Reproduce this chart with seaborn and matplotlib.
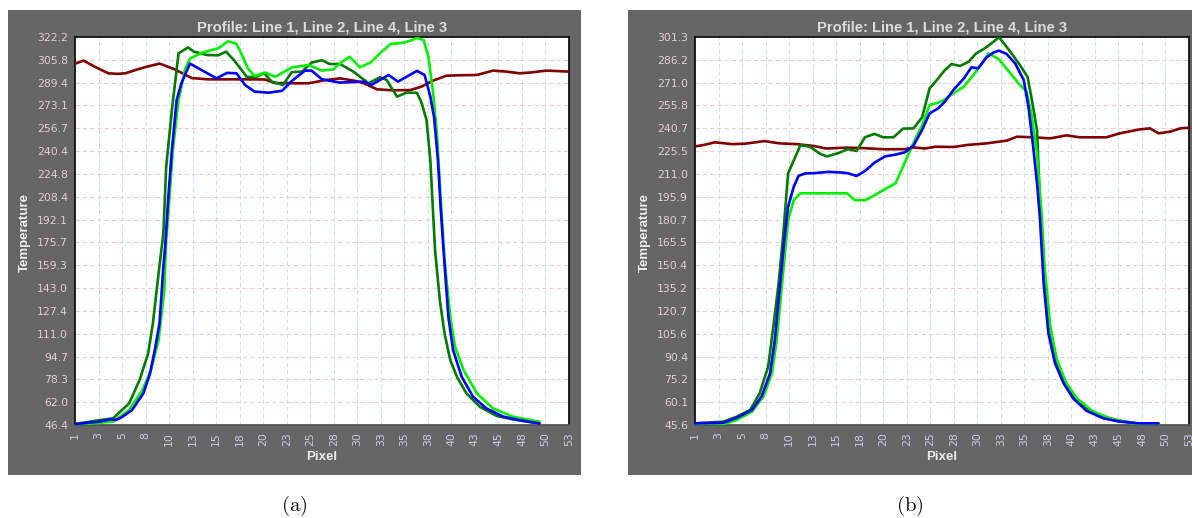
import numpy as np
import pandas as pd
import matplotlib
matplotlib.use("Agg")
import matplotlib.pyplot as plt
from matplotlib.patches import Rectangle
import seaborn as sns

# ---------------- data ----------------
x_tick_labels = ["1", "3", "5", "8", "10", "13", "15", "18", "20", "23", "25",
                 "28", "30", "33", "35", "38", "40", "43", "45", "48", "50", "53"]
a_ytick_labels = ["46.4", "62.0", "78.3", "94.7", "111.0", "127.4", "143.0", "159.3",
                  "175.7", "192.1", "208.4", "224.8", "240.4", "256.7", "273.1",
                  "289.4", "305.8", "322.2"]
b_ytick_labels = ["45.6", "60.1", "75.2", "90.4", "105.6", "120.7", "135.2", "150.4",
                  "165.5", "180.7", "195.9", "211.0", "225.5", "240.7", "255.8",
                  "271.0", "286.2", "301.3"]
titles = ["Profile: Line 1, Line 2, Line 4, Line 3",
          "Profile: Line 1, Line 2, Line 4, Line 3"]
captions = ["(a)", "(b)"]

# panel (a)
a_red_x = [1, 1.9, 3.1, 4.5, 5.5, 6.3, 7.5, 8.5, 9.9, 11.5, 13.3, 15.0, 17.0, 19.0,
           21.0, 22.0, 24.0, 25.6, 27.3, 28.9, 30.5, 31.4, 32.8, 34.5, 36.3, 37.5,
           38.7, 40.1, 41.5, 43.3, 45.0, 46.4, 47.8, 49.0, 50.6, 53.0]
a_red_y = [303.2, 305.4, 301.0, 296.4, 296.0, 296.4, 299.0, 301.0, 303.3, 299.2,
           293.0, 292.1, 292.1, 292.1, 292.0, 289.5, 289.3, 289.3, 291.5, 292.8,
           291.0, 289.3, 285.0, 284.3, 284.5, 287.0, 291.2, 294.7, 295.0, 295.2,
           298.3, 297.6, 296.4, 297.0, 298.3, 297.6]

a_dgreen_x = [1, 3.6, 5.0, 6.7, 7.8, 8.7, 9.2, 9.8, 10.3, 10.6, 11.2, 11.9, 12.9,
              13.5, 14.9, 16.1, 16.9, 17.7, 19.1, 20.1, 20.9, 21.7, 22.9, 23.8,
              24.9, 25.9, 27.0, 27.8, 28.9, 30.3, 31.9, 33.1, 33.8, 34.9, 35.9,
              37.0, 37.5, 38.0, 38.4, 38.9, 39.4, 39.9, 40.5, 41.2, 42.2, 43.6,
              45.4, 47.1, 49.3]
a_dgreen_y = [47.1, 49.9, 51.1, 61.8, 78.4, 97.3, 118.7, 154.2, 182.6, 230.0, 270.3,
              310.6, 314.8, 311.8, 309.4, 309.2, 311.8, 306.0, 293.8, 293.8, 296.6,
              290.5, 288.1, 297.2, 297.6, 304.0, 305.7, 303.0, 303.0, 297.6, 289.3,
              293.6, 291.7, 279.8, 282.7, 282.5, 275.0, 263.2, 235.0, 170.8, 135.2,
              111.5, 92.6, 80.7, 68.9, 59.4, 52.8, 50.4, 48.0]

a_lgreen_x = [1, 3.6, 5.0, 6.7, 8.1, 9.0, 9.8, 10.4, 10.6, 10.8, 11.3, 11.9, 12.6,
              13.1, 14.2, 15.4, 16.1, 17.1, 18.0, 18.5, 19.2, 19.9, 21.0, 22.1,
              23.8, 25.6, 27.0, 28.2, 28.9, 29.9, 31.0, 32.1, 33.1, 34.2, 35.6,
              36.3, 37.0, 37.7, 38.2, 38.7, 39.1, 39.4, 39.9, 40.5, 41.0, 41.9,
              43.3, 45.0, 47.1, 49.9]
a_lgreen_y = [46.4, 48.0, 48.8, 57.0, 71.3, 85.5, 106.8, 142.4, 177.9, 194.5, 241.9,
              277.4, 299.5, 306.8, 310.6, 313.0, 314.2, 319.2, 317.4, 310.6, 299.9,
              294.5, 296.9, 294.0, 300.5, 302.3, 298.3, 299.2, 303.5, 308.2, 300.7,
              304.0, 310.6, 317.2, 318.2, 319.6, 321.5, 320.0, 308.2, 282.2, 253.7,
              218.2, 163.7, 123.4, 102.1, 85.5, 68.9, 58.2, 52.3, 48.7]

a_blue_x = [1, 3.6, 4.7, 5.3, 5.9, 7.0, 8.2, 8.9, 9.4, 9.9, 10.3, 10.5, 10.8, 11.2,
            11.7, 12.2, 13.1, 15.9, 17.0, 18.0, 18.9, 19.9, 21.4, 22.8, 23.8, 25.2,
            25.9, 27.0, 28.9, 31.4, 32.2, 34.0, 35.0, 37.0, 37.8, 38.4, 38.8, 39.2,
            39.5, 39.8, 40.3, 40.8, 41.7, 42.9, 44.3, 46.1, 47.8, 49.9]
a_blue_y = [47.1, 48.8, 50.4, 50.0, 51.8, 57.0, 68.9, 83.1, 99.7, 118.7, 158.9,
            174.0, 206.3, 241.9, 277.4, 289.3, 303.3, 292.8, 296.7, 296.4, 288.1,
            283.4, 282.6, 284.0, 290.8, 298.3, 298.3, 292.1, 289.8, 290.5, 288.1,
            295.2, 290.5, 298.1, 295.2, 280.0, 265.0, 235.0, 200.0, 170.0, 123.4,
            99.7, 80.7, 66.5, 58.2, 52.3, 49.9, 47.5]

# panel (b)
b_red_x = [1, 1.9, 3.1, 4.9, 6.3, 8.3, 9.9, 11.7, 13.5, 14.8, 17.0, 18.9, 21.0, 23.1,
           24.1, 25.2, 26.3, 28.2, 29.6, 31.7, 33.8, 34.9, 36.6, 38.4, 40.1, 41.5,
           44.3, 45.7, 47.8, 48.9, 49.8, 51.0, 52.1, 53.0]
b_red_y = [229.2, 230.1, 231.9, 230.7, 231.0, 232.7, 231.2, 230.7, 229.5, 227.8,
           228.4, 228.0, 227.3, 227.4, 228.5, 227.8, 229.0, 228.8, 230.1, 231.2,
           233.0, 235.6, 235.2, 234.5, 236.5, 235.2, 235.2, 237.8, 240.4, 241.1,
           237.8, 238.9, 241.1, 241.5]

b_dgreen_x = [1, 4.0, 5.4, 6.8, 7.8, 8.7, 9.2, 9.8, 10.3, 10.8, 12.1, 13.1, 14.2,
              14.9, 16.1, 17.1, 18.0, 18.9, 19.9, 20.8, 21.9, 22.9, 24.0, 24.9, 25.7,
              26.6, 27.3, 28.0, 28.9, 29.8, 30.6, 31.5, 32.2, 33.0, 34.2, 35.2, 36.0,
              36.4, 37.0, 37.3, 37.7, 38.2, 38.9, 39.8, 40.8, 42.2, 44.0, 45.7, 47.8]
b_dgreen_y = [46.7, 47.8, 51.1, 55.5, 66.4, 84.0, 108.2, 138.9, 171.9, 211.5, 230.0,
              229.0, 224.2, 222.6, 224.8, 227.4, 226.2, 235.3, 237.4, 235.2, 235.2,
              240.9, 241.1, 248.3, 267.5, 274.0, 279.5, 283.5, 282.2, 285.0, 290.5,
              293.8, 297.1, 301.1, 291.6, 282.8, 275.1, 262.0, 240.0, 193.9, 149.9,
              117.0, 90.6, 75.3, 65.4, 56.6, 51.1, 48.5, 46.3]

b_lgreen_x = [1, 4.0, 5.4, 7.0, 8.2, 9.1, 9.6, 10.1, 10.6, 10.8, 11.4, 12.1, 14.0,
              17.0, 17.8, 18.9, 19.9, 21.0, 22.1, 22.9, 23.8, 24.9, 25.7, 26.6, 27.3,
              28.2, 29.3, 30.3, 31.2, 31.9, 33.0, 34.2, 35.2, 35.9, 36.4, 37.0, 37.5,
              37.8, 38.4, 39.1, 40.1, 41.2, 42.9, 45.0, 47.1, 49.8]
b_lgreen_y = [45.6, 46.2, 48.9, 54.4, 64.3, 79.6, 101.6, 134.5, 167.5, 180.7, 193.9,
              198.3, 198.3, 198.3, 193.9, 193.7, 197.0, 201.0, 204.8, 215.9, 229.0,
              243.0, 256.5, 258.0, 260.2, 264.2, 268.6, 276.2, 283.9, 290.5, 286.6,
              277.3, 269.7, 265.3, 251.0, 224.6, 182.9, 149.9, 110.4, 88.4, 73.1,
              63.2, 54.4, 49.3, 46.7, 45.6]

b_blue_x = [1, 4.0, 5.4, 7.0, 8.0, 8.9, 9.4, 9.9, 10.4, 10.8, 11.4, 11.9, 12.6,
            13.6, 15.0, 16.4, 17.1, 18.0, 18.9, 19.9, 21.0, 22.1, 23.1, 24.0, 24.9,
            25.7, 26.6, 27.3, 28.2, 29.3, 30.1, 30.8, 31.7, 32.4, 33.0, 33.8, 34.7,
            35.6, 36.1, 36.6, 37.0, 37.3, 37.7, 38.2, 38.9, 39.8, 40.8, 42.2, 44.0,
            45.7, 47.8, 49.8]
b_blue_y = [46.7, 47.1, 50.4, 55.5, 64.3, 79.6, 101.6, 134.5, 167.5, 189.5, 202.7,
            209.8, 211.4, 211.6, 212.4, 212.0, 211.5, 209.7, 213.0, 218.5, 222.6,
            223.8, 225.3, 229.8, 240.0, 251.0, 254.3, 258.7, 266.4, 274.0, 281.3,
            280.6, 287.9, 291.0, 292.3, 290.1, 283.9, 273.0, 255.4, 229.0, 205.0,
            182.9, 139.0, 106.0, 86.2, 73.1, 63.2, 55.0, 50.0, 47.8, 46.7, 46.7]

# draw order: bottom to top
series_colors = {"Line 3": "#800000", "Line 2": "#007a00", "Line 4": "#00ee00",
                 "Line 1": "#0000ff"}
panel_series = [
    {"Line 3": (a_red_x, a_red_y), "Line 2": (a_dgreen_x, a_dgreen_y),
     "Line 4": (a_lgreen_x, a_lgreen_y), "Line 1": (a_blue_x, a_blue_y)},
    {"Line 3": (b_red_x, b_red_y), "Line 2": (b_dgreen_x, b_dgreen_y),
     "Line 4": (b_lgreen_x, b_lgreen_y), "Line 1": (b_blue_x, b_blue_y)},
]
panel_yticks = [a_ytick_labels, b_ytick_labels]

# ---------------- figure ----------------
sns.set_style("white")
plt.rcParams["font.family"] = ["DejaVu Sans"]
plt.rcParams["mathtext.fontset"] = "cm"

W, H = 1192, 518
fig = plt.figure(figsize=(W / 100, H / 100), dpi=100)
fig.patch.set_facecolor("white")


def fx(px):
    return px / W


def fy(py):
    return 1 - py / H


BG = "#666666"
panel_boxes = [(8, 581), (628, 1192)]
plot_lefts = [75, 695]
plot_w, plot_top, plot_bottom = 494, 37, 425

for i in range(2):
    x0, x1 = panel_boxes[i]
    fig.add_artist(Rectangle((fx(x0), fy(475)), (x1 - x0) / W, (475 - 10) / H,
                             transform=fig.transFigure, facecolor=BG,
                             edgecolor="none", zorder=0))
    L = plot_lefts[i]
    ax = fig.add_axes([fx(L), fy(plot_bottom), plot_w / W,
                       (plot_bottom - plot_top) / H])
    ax.set_facecolor("white")

    ylabels = panel_yticks[i]
    y0, y1 = float(ylabels[0]), float(ylabels[-1])
    ypos = np.linspace(y0, y1, len(ylabels))
    xpos = np.linspace(1, 53, len(x_tick_labels))

    for name, (xs, ys) in panel_series[i].items():
        df = pd.DataFrame({"Pixel": xs, "Temperature": ys})
        sns.lineplot(data=df, x="Pixel", y="Temperature", ax=ax,
                     color=series_colors[name], linewidth=1.9,
                     estimator=None, sort=False, legend=False, zorder=3)

    ax.set_xlim(1, 53)
    ax.set_ylim(y0, y1)
    ax.set_xticks(xpos, x_tick_labels, rotation=90, fontsize=7.8, color="#c6cde0")
    ax.set_yticks(ypos, ylabels, fontsize=7.8, color="#e2cfcf")
    ax.tick_params(axis="both", length=2, width=0.6, color="#999999", pad=3)
    ax.set_xlabel("")
    ax.set_ylabel("")

    for y in ypos[1:-1]:
        ax.axhline(y, color="#f2c8c8", lw=0.75, ls=(0, (4, 3)), zorder=1)
    for x in xpos[1:-1]:
        ax.axvline(x, color="#c6def6", lw=0.75, ls=(0, (4, 3)), zorder=1)

    for s in ax.spines.values():
        s.set_visible(True)
        s.set_color("#111111")
        s.set_linewidth(1.3)
    ax.spines["bottom"].set_color("#555555")

    cx = L + plot_w / 2
    fig.text(fx(cx), fy(28), titles[i], ha="center", va="center",
             fontsize=10.6, fontweight="bold", color="#dcdcdc",
             family="Liberation Sans")
    fig.text(fx(L - 50), fy(233), "Temperature", ha="center", va="center",
             rotation=90, fontsize=9.5, fontweight="bold", color="#f0f0f0",
             family="Liberation Sans")
    fig.text(fx(cx), fy(457), "Pixel", ha="center", va="center",
             fontsize=9.5, fontweight="bold", color="#ececec",
             family="Liberation Sans")
    fig.text(fx((x0 + x1) / 2), fy(506), r"$\mathrm{" + captions[i] + "}$",
             ha="center", va="center", fontsize=15, color="#111111")

fig.savefig("out.png", dpi=100, facecolor="white")
